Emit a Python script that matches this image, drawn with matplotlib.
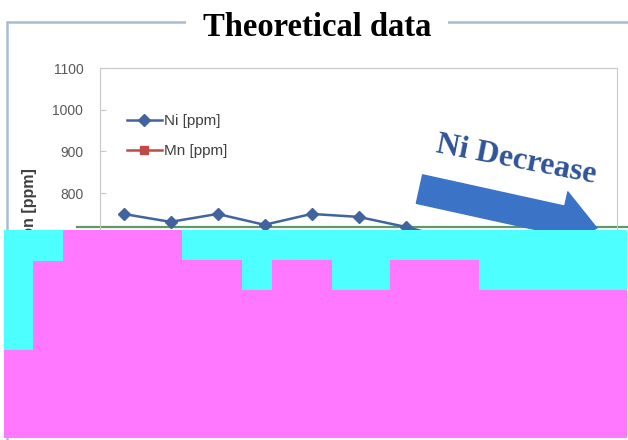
import matplotlib
matplotlib.use('Agg')
import matplotlib.pyplot as plt
from matplotlib.patches import Rectangle

# figure size in pixels
W, H = 628, 440

# chart data
samples = [1, 2, 3, 4, 5, 6, 7, 8, 9, 10, 11]
ni_ppm = [750, 731, 750, 724, 750, 743, 719, 690, 665, 640, 615]
mn_ppm = [420, 410, 420, 405, 415, 420, 405, 410, 400, 410, 405]
y_ticks = [300, 400, 500, 600, 700, 800, 900, 1000, 1100]
ref_level = 719

# cyan / magenta blocks covering the lower part (pixel units)
mask_edges = [4, 33, 63, 182, 242, 272, 332, 390, 479, 627]
mask_tops = [350, 261, 230, 260, 290, 260, 290, 260, 290]


def fx(px):
    return px / W


def fy(py):
    return 1 - py / H


plt.rcParams['font.family'] = ['Liberation Sans', 'DejaVu Sans']

fig = plt.figure(figsize=(W / 100, H / 100), dpi=100)

# outer frame with the title breaking its top edge
fig.add_artist(Rectangle((fx(7), fy(470)), fx(680) - fx(7), fy(22) - fy(470),
                         transform=fig.transFigure, fill=False,
                         ec='#a9bdd0', lw=1.8, zorder=0))
fig.text(fx(317), fy(28), 'Theoretical data', ha='center', va='center',
         fontsize=23.5, fontweight='bold', family='Liberation Serif',
         bbox=dict(fc='white', ec='none', boxstyle='square,pad=0.5'), zorder=5)

ax = fig.add_axes([fx(100), fy(401.6), fx(617) - fx(100), fy(68) - fy(401.6)])
x = list(range(len(samples)))
ax.axhline(ref_level, xmin=(77 - 100) / 517, xmax=(640 - 100) / 517,
           color='#5e9a68', lw=1.6, clip_on=False, zorder=1)
ax.plot(x, ni_ppm, color='#41649e', lw=1.8, marker='D', ms=6, label='Ni [ppm]')
ax.plot(x, mn_ppm, color='#be4b48', lw=1.8, marker='s', ms=5.5, label='Mn [ppm]')
ax.set_xlim(-0.5, 10.5)
ax.set_ylim(300, 1100)
ax.set_yticks(y_ticks)
ax.set_xticks(x)
ax.set_xticklabels(samples)
for s in ax.spines.values():
    s.set_color('#c8c8c8')
ax.tick_params(axis='y', direction='in', length=4, color='#c8c8c8',
               labelcolor='#595959', labelsize=10, pad=12)
ax.set_ylabel('Concentration [ppm]', fontweight='bold', fontsize=11.5, color='#404040')
ax.yaxis.set_label_coords(-0.122, 0.462)

leg = ax.legend(loc='upper left', bbox_to_anchor=(0.052, 0.862), frameon=False,
                fontsize=11, handlelength=2.3, handletextpad=0.1,
                labelspacing=1.05, borderpad=0, borderaxespad=0)
for t in leg.get_texts():
    t.set_color('#404040')

# "Ni Decrease" arrow and label
ax.annotate('', xy=(0.961, 0.520), xytext=(0.618, 0.637),
            xycoords='axes fraction', textcoords='axes fraction',
            arrowprops=dict(arrowstyle='simple,head_length=1.3,head_width=2.1,tail_width=1.05',
                            mutation_scale=20, color='#3b73c6', shrinkA=0, shrinkB=0))
ax.text(0.805, 0.724, 'Ni Decrease', transform=ax.transAxes, rotation=-11,
        rotation_mode='anchor', ha='center', va='center', fontsize=23,
        fontweight='bold', family='Liberation Serif', color='#2f5496')

# covering blocks
mask = fig.add_axes([fx(4), fy(438), fx(627) - fx(4), fy(230) - fy(438)], zorder=10)
mask.set_facecolor('#4dffff')
mask.stairs(mask_tops, mask_edges, baseline=438, fill=True, color='#ff78ff')
mask.set_xlim(4, 627)
mask.set_ylim(438, 230)
mask.set_xticks([])
mask.set_yticks([])
for s in mask.spines.values():
    s.set_visible(False)

plt.savefig('out.png', dpi=100)
